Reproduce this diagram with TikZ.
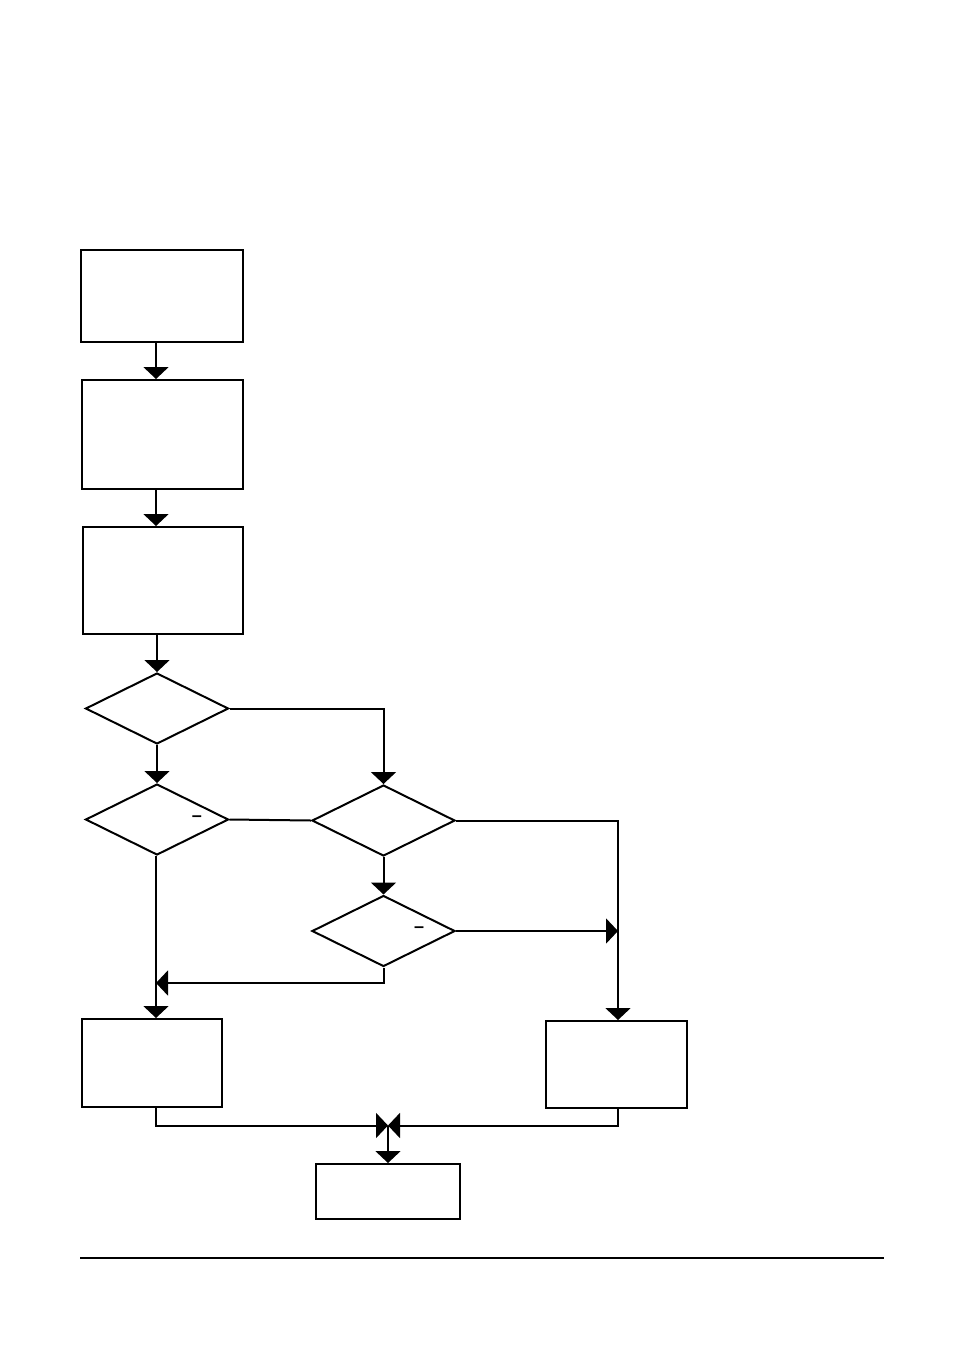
\documentclass[tikz,border=0pt]{standalone}
\usepackage{fontspec}
\newfontfamily\lblfont{Liberation Sans}
\usetikzlibrary{shapes.geometric,arrows.meta}
\begin{document}
\begin{tikzpicture}[x=1pt,y=-1pt,
  line width=2pt,
  box/.style={draw,rectangle,inner sep=0pt,line width=2pt},
  dia/.style={draw,diamond,inner sep=0pt,line width=2pt,minimum width=143pt,minimum height=71pt},
  arr/.style={-{Triangle[width=25pt,length=12pt]}},
  dashlbl/.style={inner sep=0pt,font=\lblfont\fontsize{18}{18}\selectfont\bfseries}]
\useasboundingbox (0,0) rectangle (954,1346);
% boxes
\node[box,minimum width=162pt,minimum height=92pt] (b1) at (162,296) {};
\node[box,minimum width=161pt,minimum height=109pt] (b2) at (162.5,434.5) {};
\node[box,minimum width=160pt,minimum height=107pt] (b3) at (163,580.5) {};
\node[box,minimum width=140pt,minimum height=88pt] (b4) at (152,1063) {};
\node[box,minimum width=141pt,minimum height=87pt] (b5) at (616.5,1064.5) {};
\node[box,minimum width=144pt,minimum height=55pt] (b6) at (388,1191.5) {};
% diamonds
\node[dia] (d1) at (157,708.5) {};
\node[dia] (d2) at (157,819.5) {};
\node[dia] (d3) at (383.5,820.5) {};
\node[dia] (d4) at (383.5,931) {};
\node[dashlbl] (m2) at (197,818.5) {–};
\node[dashlbl] (m4) at (419,929.5) {–};
% junction coordinates
\coordinate (j1) at (156,983);
\coordinate (j2) at (388,1125.5);
\coordinate (vx) at (156,0);
% connectors
\draw[arr] (b1.south -| vx) -- (b2.north -| vx);
\draw[arr] (b2.south -| vx) -- (b3.north -| vx);
\draw[arr] (b3.south -| d1.north) -- (d1.north);
\draw[arr] (d1.south) -- (d2.north);
\draw[arr] (d1.east) -| (d3.north);
\draw (d2.east) -- (d3.west);
\draw[arr] (d3.east) -| (b5.north -| 618,0);
\draw[arr] (d3.south) -- (d4.north);
\draw[arr] (d4.east) -- (d4.east -| 618,0);
\draw[arr] (d4.south) |- (j1);
\draw[arr] (d2.south -| vx) -- (b4.north -| vx);
\draw[arr] (b4.south -| vx) |- (j2);
\draw[arr] (b5.south -| 618,0) |- (j2);
\draw[arr] (j2) -- (b6.north);
% footer rule
\coordinate (r1) at (80,1258);
\coordinate (r2) at (884,1258);
\draw[line width=1.2pt] (r1) -- (r2);
\end{tikzpicture}
\end{document}
